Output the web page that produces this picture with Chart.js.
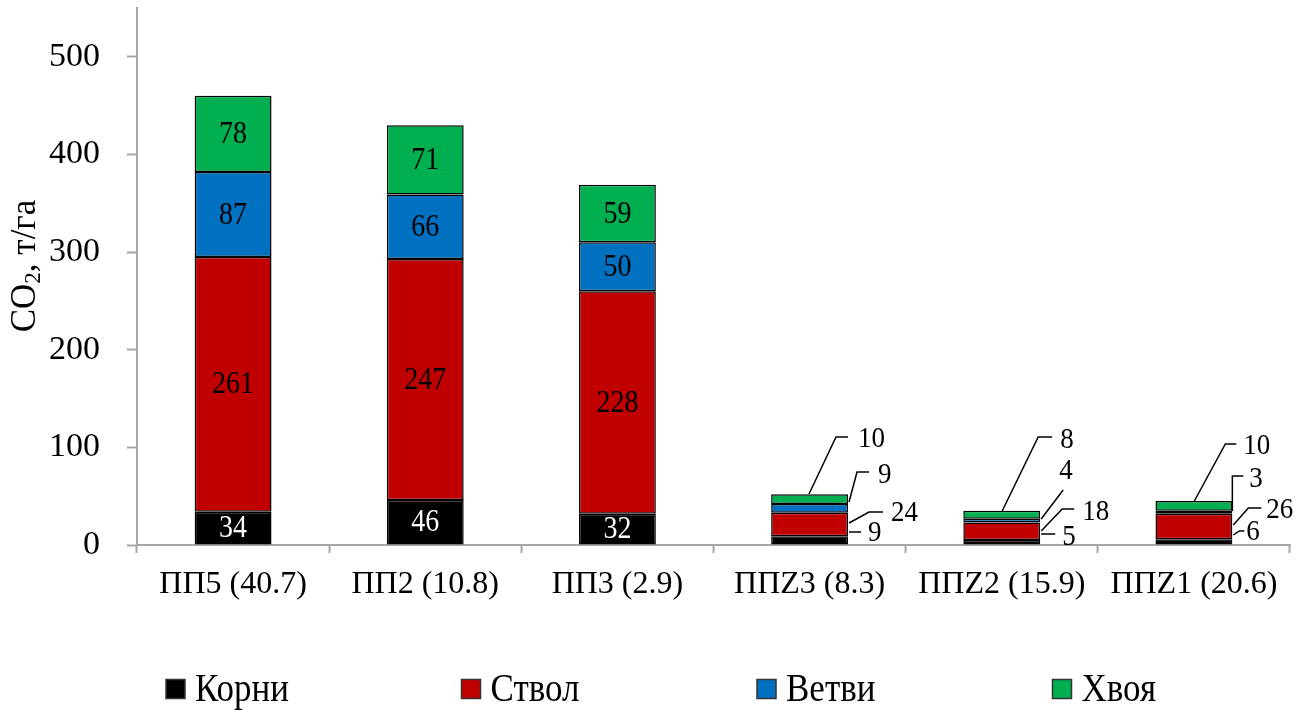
<!DOCTYPE html>
<html>
<head>
<meta charset="utf-8">
<script src="https://cdn.jsdelivr.net/npm/chart.js@4.4.1/dist/chart.umd.min.js"></script>
<style>
html,body{margin:0;padding:0;background:#fff;}
#wrap{width:1312px;height:710px;position:relative;}
</style>
</head>
<body>
<div id="wrap"><canvas id="c" width="1312" height="710"></canvas></div>
<script>
// ---- data ----
const categories = ['ПП5 (40.7)', 'ПП2 (10.8)', 'ПП3 (2.9)', 'ППZ3 (8.3)', 'ППZ2 (15.9)', 'ППZ1 (20.6)'];
const korni  = [34, 46, 32, 9, 5, 6];
const stvol  = [261, 247, 228, 24, 18, 26];
const vetvi  = [87, 66, 50, 9, 4, 3];
const khvoya = [78, 71, 59, 10, 8, 10];
const seriesNames = ['Корни', 'Ствол', 'Ветви', 'Хвоя'];
const yTickValues = [0, 100, 200, 300, 400, 500];
const yTitle = ['CO', '2', ', т/га'];

// ---- styles / layout (not data) ----
const colors = ['#000000', '#C00000', '#0070C0', '#00B050'];
const FONT = "'Liberation Serif', 'Times New Roman', serif";
const axisGray = '#a6a6a6';
// leader-line label layout for the small bars: offsets from (bar right edge, zero line)
const leaderLayout = {
  3: {3: {path: [[-39,-51],[-12,-108],[0,-108]], text: [10,-106]},
      2: {path: [[1,-43],[9,-73],[21,-73]], text: [30,-70]},
      1: {path: [[1,-22],[21,-33],[35,-33]], text: [43,-32]},
      0: {path: [[1,-13],[13,-13]], text: [20,-12]}},
  4: {3: {path: [[-38,-34],[-2,-108],[12,-108]], text: [20,-105]},
      2: {path: [[1,-26],[23,-55]], text: [19,-74]},
      1: {path: [[1,-14],[22,-36],[34,-36]], text: [42,-33]},
      0: {path: [[1,-11],[15,-11]], text: [22,-8]}},
  5: {3: {path: [[-38,-44],[-7,-101],[4,-101]], text: [11,-99]},
      2: {path: [[0,-34],[0,-69],[11,-69]], text: [17,-66]},
      1: {path: [[1,-20],[16,-37],[29,-37]], text: [34,-35]},
      0: {path: [[1,-10],[7,-14],[12,-14]], text: [14,-13]}}
};
const insideCats = [0, 1, 2];

const seriesData = [korni, stvol, vetvi, khvoya];

function stretchedText(ctx, text, x, y, sy) {
  ctx.save();
  ctx.translate(x, y);
  ctx.scale(1, sy);
  ctx.fillText(text, 0, 0);
  ctx.restore();
}

const labelPlugin = {
  id: 'labels',
  afterDatasetsDraw(chart) {
    const ctx = chart.ctx;
    const y0 = chart.scales.y.getPixelForValue(0);
    ctx.save();
    // inside labels
    ctx.font = '28px ' + FONT;
    ctx.textAlign = 'center';
    ctx.textBaseline = 'middle';
    chart.data.datasets.forEach((ds, i) => {
      const meta = chart.getDatasetMeta(i);
      insideCats.forEach(j => {
        const el = meta.data[j];
        ctx.fillStyle = i === 0 ? '#ffffff' : '#000000';
        stretchedText(ctx, String(ds.data[j]), el.x, (el.y + el.base) / 2 + 1, 1.1);
      });
    });
    // leader labels
    ctx.font = '27px ' + FONT;
    ctx.textAlign = 'left';
    ctx.strokeStyle = '#000';
    ctx.lineWidth = 1.5;
    ctx.fillStyle = '#000';
    Object.keys(leaderLayout).forEach(cat => {
      const c = +cat;
      const lay = leaderLayout[cat];
      Object.keys(lay).forEach(dsi => {
        const d = +dsi;
        const el = chart.getDatasetMeta(d).data[c];
        const xr = el.x + el.width / 2;
        const L = lay[dsi];
        ctx.beginPath();
        L.path.forEach((p, k) => {
          const px = xr + p[0], py = y0 + p[1];
          if (k === 0) ctx.moveTo(px, py); else ctx.lineTo(px, py);
        });
        ctx.stroke();
        stretchedText(ctx, String(chart.data.datasets[d].data[c]), xr + L.text[0], y0 + L.text[1], 1.1);
      });
    });
    ctx.restore();
  },
  afterDraw(chart) {
    const ctx = chart.ctx;
    ctx.save();
    // y axis title with subscript
    ctx.translate(26, 266);
    ctx.rotate(-Math.PI / 2);
    ctx.textBaseline = 'middle';
    ctx.fillStyle = '#000';
    const big = '35px ' + FONT, small = '23px ' + FONT;
    ctx.font = big; const w0 = ctx.measureText(yTitle[0]).width;
    ctx.font = small; const w1 = ctx.measureText(yTitle[1]).width;
    ctx.font = big; const w2 = ctx.measureText(yTitle[2]).width;
    let x = -(w0 + w1 + w2) / 2;
    ctx.textAlign = 'left';
    ctx.font = big; ctx.fillText(yTitle[0], x, 0); x += w0;
    ctx.font = small; ctx.fillText(yTitle[1], x, 8); x += w1;
    ctx.font = big; ctx.fillText(yTitle[2], x, 0);
    ctx.restore();

    // legend
    ctx.save();
    const startX = 166, step = 295.5, cy = 689, box = 19;
    ctx.font = '35px ' + FONT;
    ctx.textBaseline = 'middle';
    ctx.textAlign = 'left';
    seriesNames.forEach((name, i) => {
      const bx = startX + step * i;
      ctx.fillStyle = colors[i];
      ctx.fillRect(bx, cy - box / 2, box, box);
      ctx.strokeStyle = '#333';
      ctx.lineWidth = 1.5;
      ctx.strokeRect(bx, cy - box / 2, box, box);
      ctx.fillStyle = '#000';
      stretchedText(ctx, name, bx + box + 10, cy + 1, 1.15);
    });
    ctx.restore();
  }
};

new Chart(document.getElementById('c'), {
  type: 'bar',
  data: {
    labels: categories,
    datasets: seriesData.map((d, i) => ({
      label: seriesNames[i],
      data: d,
      backgroundColor: colors[i],
      borderColor: '#000',
      borderWidth: 1.5,
      borderSkipped: false,
      barPercentage: 0.4,
      categoryPercentage: 1.0
    }))
  },
  options: {
    responsive: false,
    animation: false,
    devicePixelRatio: 1,
    layout: {padding: {left: 0, top: 8, right: 22, bottom: 105}},
    plugins: {legend: {display: false}, tooltip: {enabled: false}, title: {display: false}},
    scales: {
      x: {
        stacked: true,
        offset: true,
        grid: {offset: true, drawOnChartArea: false, drawTicks: true, tickLength: 8, tickColor: axisGray, tickWidth: 2},
        border: {color: axisGray, width: 2},
        ticks: {font: {family: FONT, size: 32}, color: '#000', padding: 12, maxRotation: 0, autoSkip: false},
        afterFit(s) { s.height = 60; s.paddingLeft = 0; s.paddingRight = 0; }
      },
      y: {
        stacked: true,
        min: 0,
        max: 550,
        afterBuildTicks(s) { s.ticks = yTickValues.map(v => ({value: v})); },
        grid: {drawOnChartArea: false, drawTicks: true, tickLength: 10, tickColor: axisGray, tickWidth: 2},
        border: {color: axisGray, width: 2},
        ticks: {font: {family: FONT, size: 34}, color: '#000', padding: 27},
        afterFit(s) { s.width = 137; s.paddingTop = 0; s.paddingBottom = 0; }
      }
    }
  },
  plugins: [labelPlugin]
});
</script>
</body>
</html>
